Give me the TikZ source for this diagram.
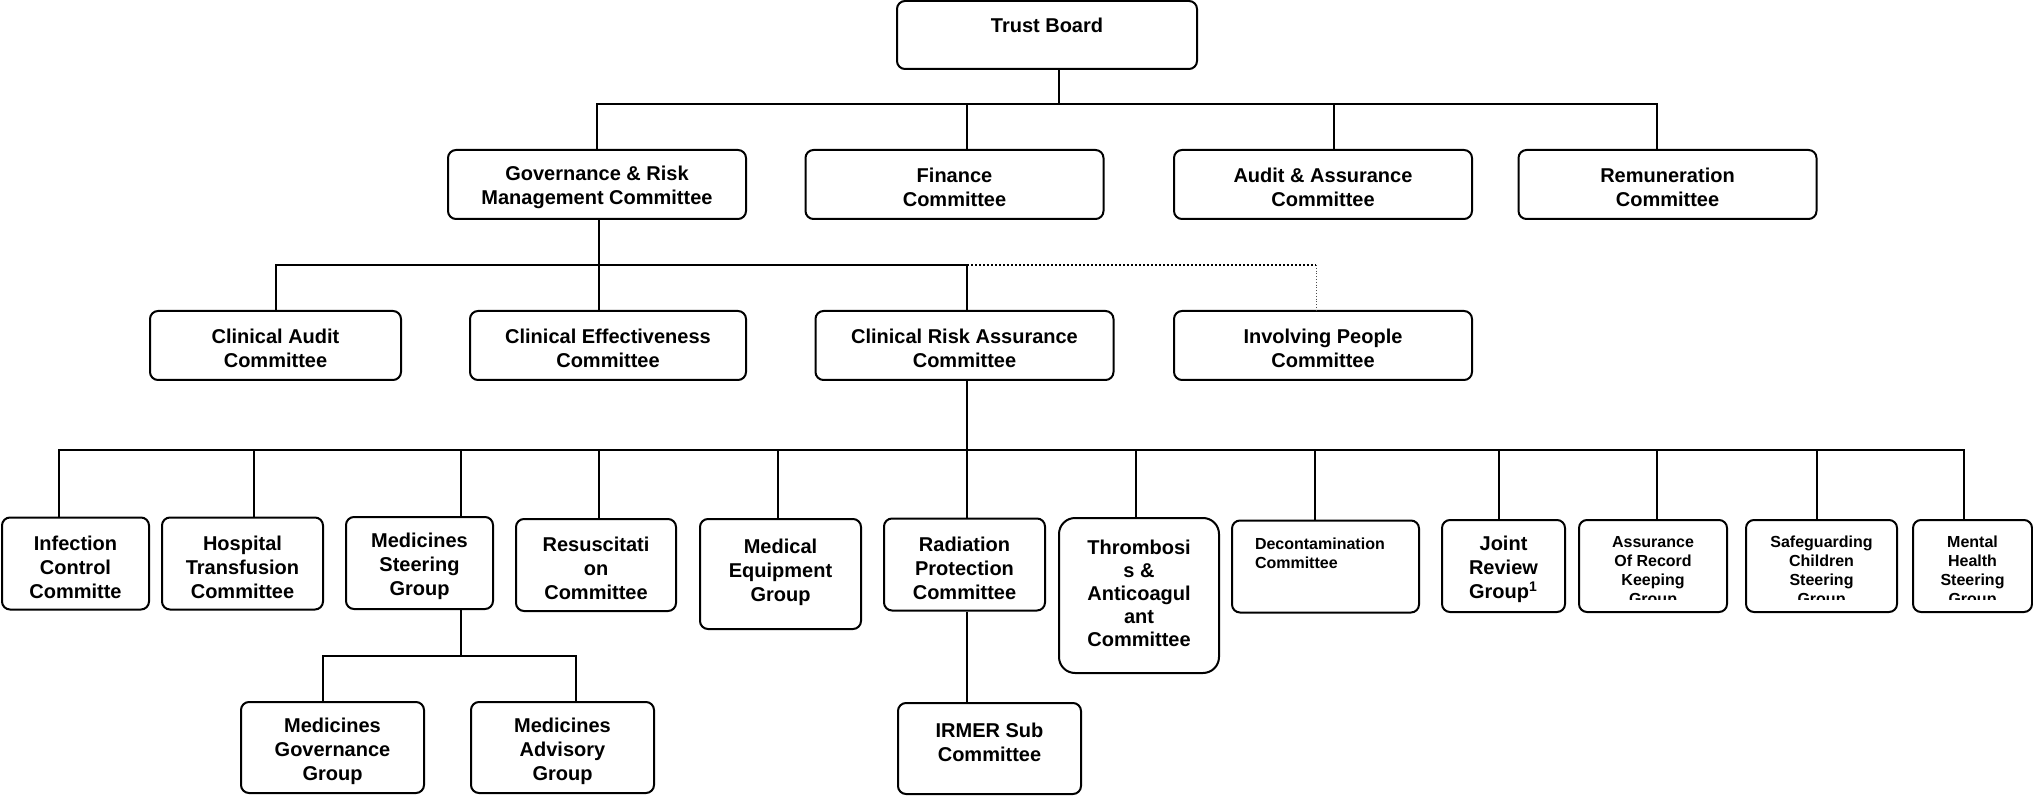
\documentclass[tikz,border=0pt]{standalone}
\usepackage{fontspec}
\setmainfont{Liberation Sans}
\usepackage{tikz}

\begin{document}
\begin{tikzpicture}[x=0.5pt,y=-0.5pt,
        box/.style={draw=black,line width=1pt,rounded corners=4pt,inner sep=0pt,align=center,font=\bfseries},
        small/.style={font=\bfseries\fontsize{8}{9.5}\selectfont},
        two/.style={box,minimum height=34.5pt,text height=22pt},
        wide/.style={two,minimum width=149pt},
        tall/.style={box,minimum height=46pt,text height=35pt},
        link/.style={line width=1pt}]
        \useasboundingbox (0,0) rectangle (2033,796);
        % board
        \node[box,minimum width=150pt,minimum height=34pt,text depth=9.3pt] (TB) at (1047,35) {Trust Board};
        \node[wide] (GRM) at (597,184.5) {Governance \& Risk\\Management Committee};
        \node[wide] (FIN) at (954.5,184.5) {Finance\\Committee};
        \node[wide] (AAC) at (1323,184.5) {Audit \& Assurance\\Committee};
        \node[wide] (REM) at (1667.5,184.5) {Remuneration\\Committee};
        % under governance
        \node[two,minimum width=125.5pt] (CAC) at (275.5,345.5) {Clinical Audit\\Committee};
        \node[two,minimum width=138pt] (CEC) at (608,345.5) {Clinical Effectiveness\\Committee};
        \node[wide] (CRA) at (964.5,345.5) {Clinical Risk Assurance\\Committee};
        \node[wide] (IPC) at (1323,345.5) {Involving People\\Committee};
        % under clinical risk
        \node[tall,minimum width=73.5pt] (ICC) at (75.5,563.5) {Infection\\Control\\Committe};
        \node[tall,minimum width=80.5pt] (HTC) at (242.5,563.5) {Hospital\\Transfusion\\Committee};
        \node[tall,minimum width=73.5pt] (MSG) at (419.5,563) {Medicines\\Steering\\Group};
        \node[tall,minimum width=80pt] (RES) at (596,565) {Resuscitati\\on\\Committee};
        \node[box,minimum width=80.5pt,minimum height=55pt,text depth=3.7pt] (MEG) at (780.5,574) {Medical\\Equipment\\Group};
        \node[tall,minimum width=80.5pt] (RPC) at (964.5,564.5) {Radiation\\Protection\\Committee};
        \node[box,rounded corners=8pt,minimum width=80pt,minimum height=77.5pt,text depth=2pt,font=\bfseries\fontsize{10}{11.5}\selectfont] (TAC) at (1139,595.5) {Thrombosi\\s \&\\Anticoagul\\ant\\Committee};
        \node[box,small,minimum width=93.5pt,minimum height=46pt,text width=70.5pt,align=left,text depth=22.5pt] (DEC) at (1325.5,566.5) {Decontamination\\Committee};
        \node[tall,minimum width=61.5pt] (JRG) at (1503.5,566) {Joint\\Review\\Group\textsuperscript{1}};
        \node[tall,minimum width=74pt] (ARK) at (1653,566) {};
        \node[tall,minimum width=75.5pt] (SCS) at (1821.5,566) {};
        \node[tall,minimum width=59.5pt] (MHS) at (1972.5,566) {};
        \begin{scope}
            \clip (1579,520) rectangle (2033,599);
            \node[small,align=center,anchor=north,inner sep=0pt] (ARKt) at (1653,536) {Assurance\\Of Record\\Keeping\\Group};
            \node[small,align=center,anchor=north,inner sep=0pt] (SCSt) at (1821.5,536) {Safeguarding\\Children\\Steering\\Group};
            \node[small,align=center,anchor=north,inner sep=0pt] (MHSt) at (1972.5,536) {Mental\\Health\\Steering\\Group};
        \end{scope}
        % bottom row
        \node[tall,minimum width=91.5pt,minimum height=45.5pt] (MGG) at (332.5,747.5) {Medicines\\Governance\\Group};
        \node[tall,minimum width=91.5pt,minimum height=45.5pt] (MAG) at (562.5,747.5) {Medicines\\Advisory\\Group};
        \node[box,minimum width=91.5pt,minimum height=45.5pt,text depth=5.9pt] (IRM) at (989.5,748.5) {IRMER Sub\\Committee};
        % lines
        \coordinate (J1) at (1059,104);
        \coordinate (J2) at (599,265);
        \coordinate (J3) at (967,449.5);
        \coordinate (J4) at (461,656);
        \draw[link] (J1 |- TB.south) -- (J1);
        \draw[link] (GRM.north) |- (J1) -| ([xshift=-5.5pt]REM.north);
        \draw[link] ([xshift=6.25pt]FIN.north) |- (J1);
        \draw[link] ([xshift=5.5pt]AAC.north) |- (J1);
        \draw[link] (J2 |- GRM.south) -- (J2 |- CEC.north);
        \draw[link] (CAC.north) |- (J2) -| (J3 |- CRA.north);
        \draw[link,densely dotted] (J3 |- J2) -- ([xshift=-3.5pt]IPC.north |- J2);
        \draw[black!70,densely dotted,line width=0.4pt] ([xshift=-3.5pt]IPC.north |- J2) -- ([xshift=-3.5pt]IPC.north);
        \draw[link] (J3 |- CRA.south) -- (J3 |- RPC.north);
        \draw[link] ([xshift=-8.25pt]ICC.north) |- (J3) -| ([xshift=-4.25pt]MHS.north);
        \draw[link] ([xshift=5.75pt]HTC.north) |- (J3);
        \draw[link] ([xshift=20.75pt]MSG.north) |- (J3);
        \draw[link] ([xshift=1.5pt]RES.north) |- (J3);
        \draw[link] ([xshift=-1.25pt]MEG.north) |- (J3);
        \draw[link] ([xshift=-1.5pt]TAC.north) |- (J3);
        \draw[link] ([xshift=-5.25pt]DEC.north) |- (J3);
        \draw[link] ([xshift=-2.25pt]JRG.north) |- (J3);
        \draw[link] ([xshift=2pt]ARK.north) |- (J3);
        \draw[link] ([xshift=-2.25pt]SCS.north) |- (J3);
        \draw[link] (J3 |- RPC.south) -- (J3 |- IRM.north);
        \draw[link] (J4 |- MSG.south) -- (J4);
        \draw[link] ([xshift=-4.75pt]MGG.north) |- (J4) -| ([xshift=6.75pt]MAG.north);
    \end{tikzpicture}
\end{document}
